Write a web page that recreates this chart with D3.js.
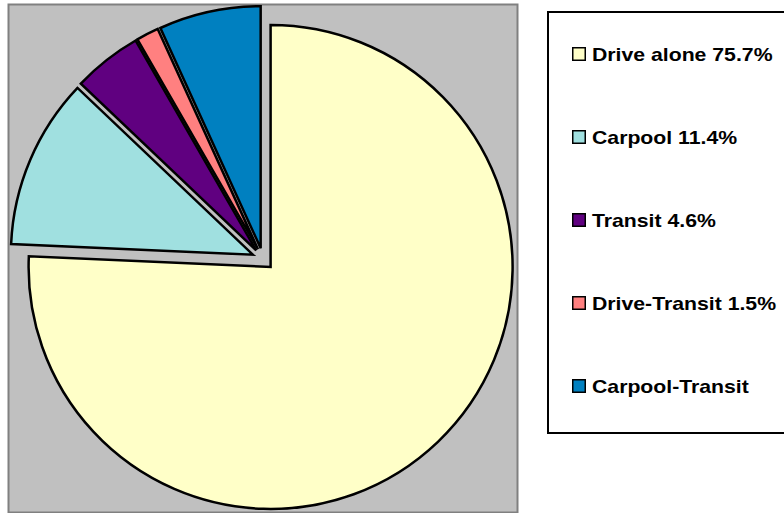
<!DOCTYPE html>
<meta charset="utf-8">
<head>
  <title>Commute mode share</title>
  <script src="https://cdn.jsdelivr.net/npm/d3@7"></script>
  <style>
    body {margin: 0; background: #fff;}
    text {font-family: "Liberation Sans", Arial, sans-serif; font-weight: bold;}
  </style>
</head>
<body>
<div id="chart"></div>
<script>
  // chart data
  var modes = ["Drive alone", "Carpool", "Transit", "Drive-Transit", "Carpool-Transit"];
  var shares = [75.7, 11.4, 4.6, 1.5, 6.8];
  var legendLabels = ["Drive alone 75.7%", "Carpool 11.4%", "Transit 4.6%", "Drive-Transit 1.5%", "Carpool-Transit"];
  var colors = ["#FFFFC8", "#A0E0E0", "#600080", "#FF8080", "#0080C0"];

  var width = 784, height = 513;

  var svg = d3.select("#chart").append("svg")
      .attr("width", width)
      .attr("height", height);

  // gray plot area
  svg.append("rect")
      .attr("x", 8.5).attr("y", 4.5)
      .attr("width", 509).attr("height", 508)
      .attr("fill", "#C0C0C0")
      .attr("stroke", "#808080")
      .attr("stroke-width", 2);

  var cx = 263, cy = 259, radius = 242, explode = 11;

  var pie = d3.pie().sort(null).value(function(d){ return d; });
  var arc = d3.arc().innerRadius(0).outerRadius(radius);

  var g = svg.append("g").attr("transform", "translate(" + cx + "," + cy + ")");

  g.selectAll("path")
    .data(pie(shares))
    .enter()
    .append("path")
    .attr("d", arc)
    .attr("transform", function(d){
        var mid = (d.startAngle + d.endAngle) / 2;
        return "translate(" + (Math.sin(mid) * explode) + "," + (-Math.cos(mid) * explode) + ")";
    })
    .attr("fill", function(d, i){ return colors[i]; })
    .attr("stroke", "#000")
    .attr("stroke-width", 2.5)
    .attr("stroke-linejoin", "miter");

  // legend
  svg.append("rect")
      .attr("x", 548).attr("y", 12)
      .attr("width", 250).attr("height", 421)
      .attr("fill", "#fff")
      .attr("stroke", "#000")
      .attr("stroke-width", 2);

  var y = d3.scalePoint().domain(modes).range([54, 386]);

  var items = svg.selectAll(".item")
      .data(modes)
      .enter()
      .append("g")
      .attr("class", "item")
      .attr("transform", function(d){ return "translate(572," + y(d) + ")"; });

  items.append("rect")
      .attr("x", 0.75).attr("y", -6.25)
      .attr("width", 12.5).attr("height", 12.5)
      .attr("fill", function(d, i){ return colors[i]; })
      .attr("stroke", "#000")
      .attr("stroke-width", 1.5);

  // legend text is drawn a bit wider than the font's natural width
  items.append("text")
      .attr("transform", "translate(20,6.5) scale(1.18,1)")
      .style("font-size", "18px")
      .attr("fill", "#000")
      .text(function(d, i){ return legendLabels[i]; });
</script>
</body>
